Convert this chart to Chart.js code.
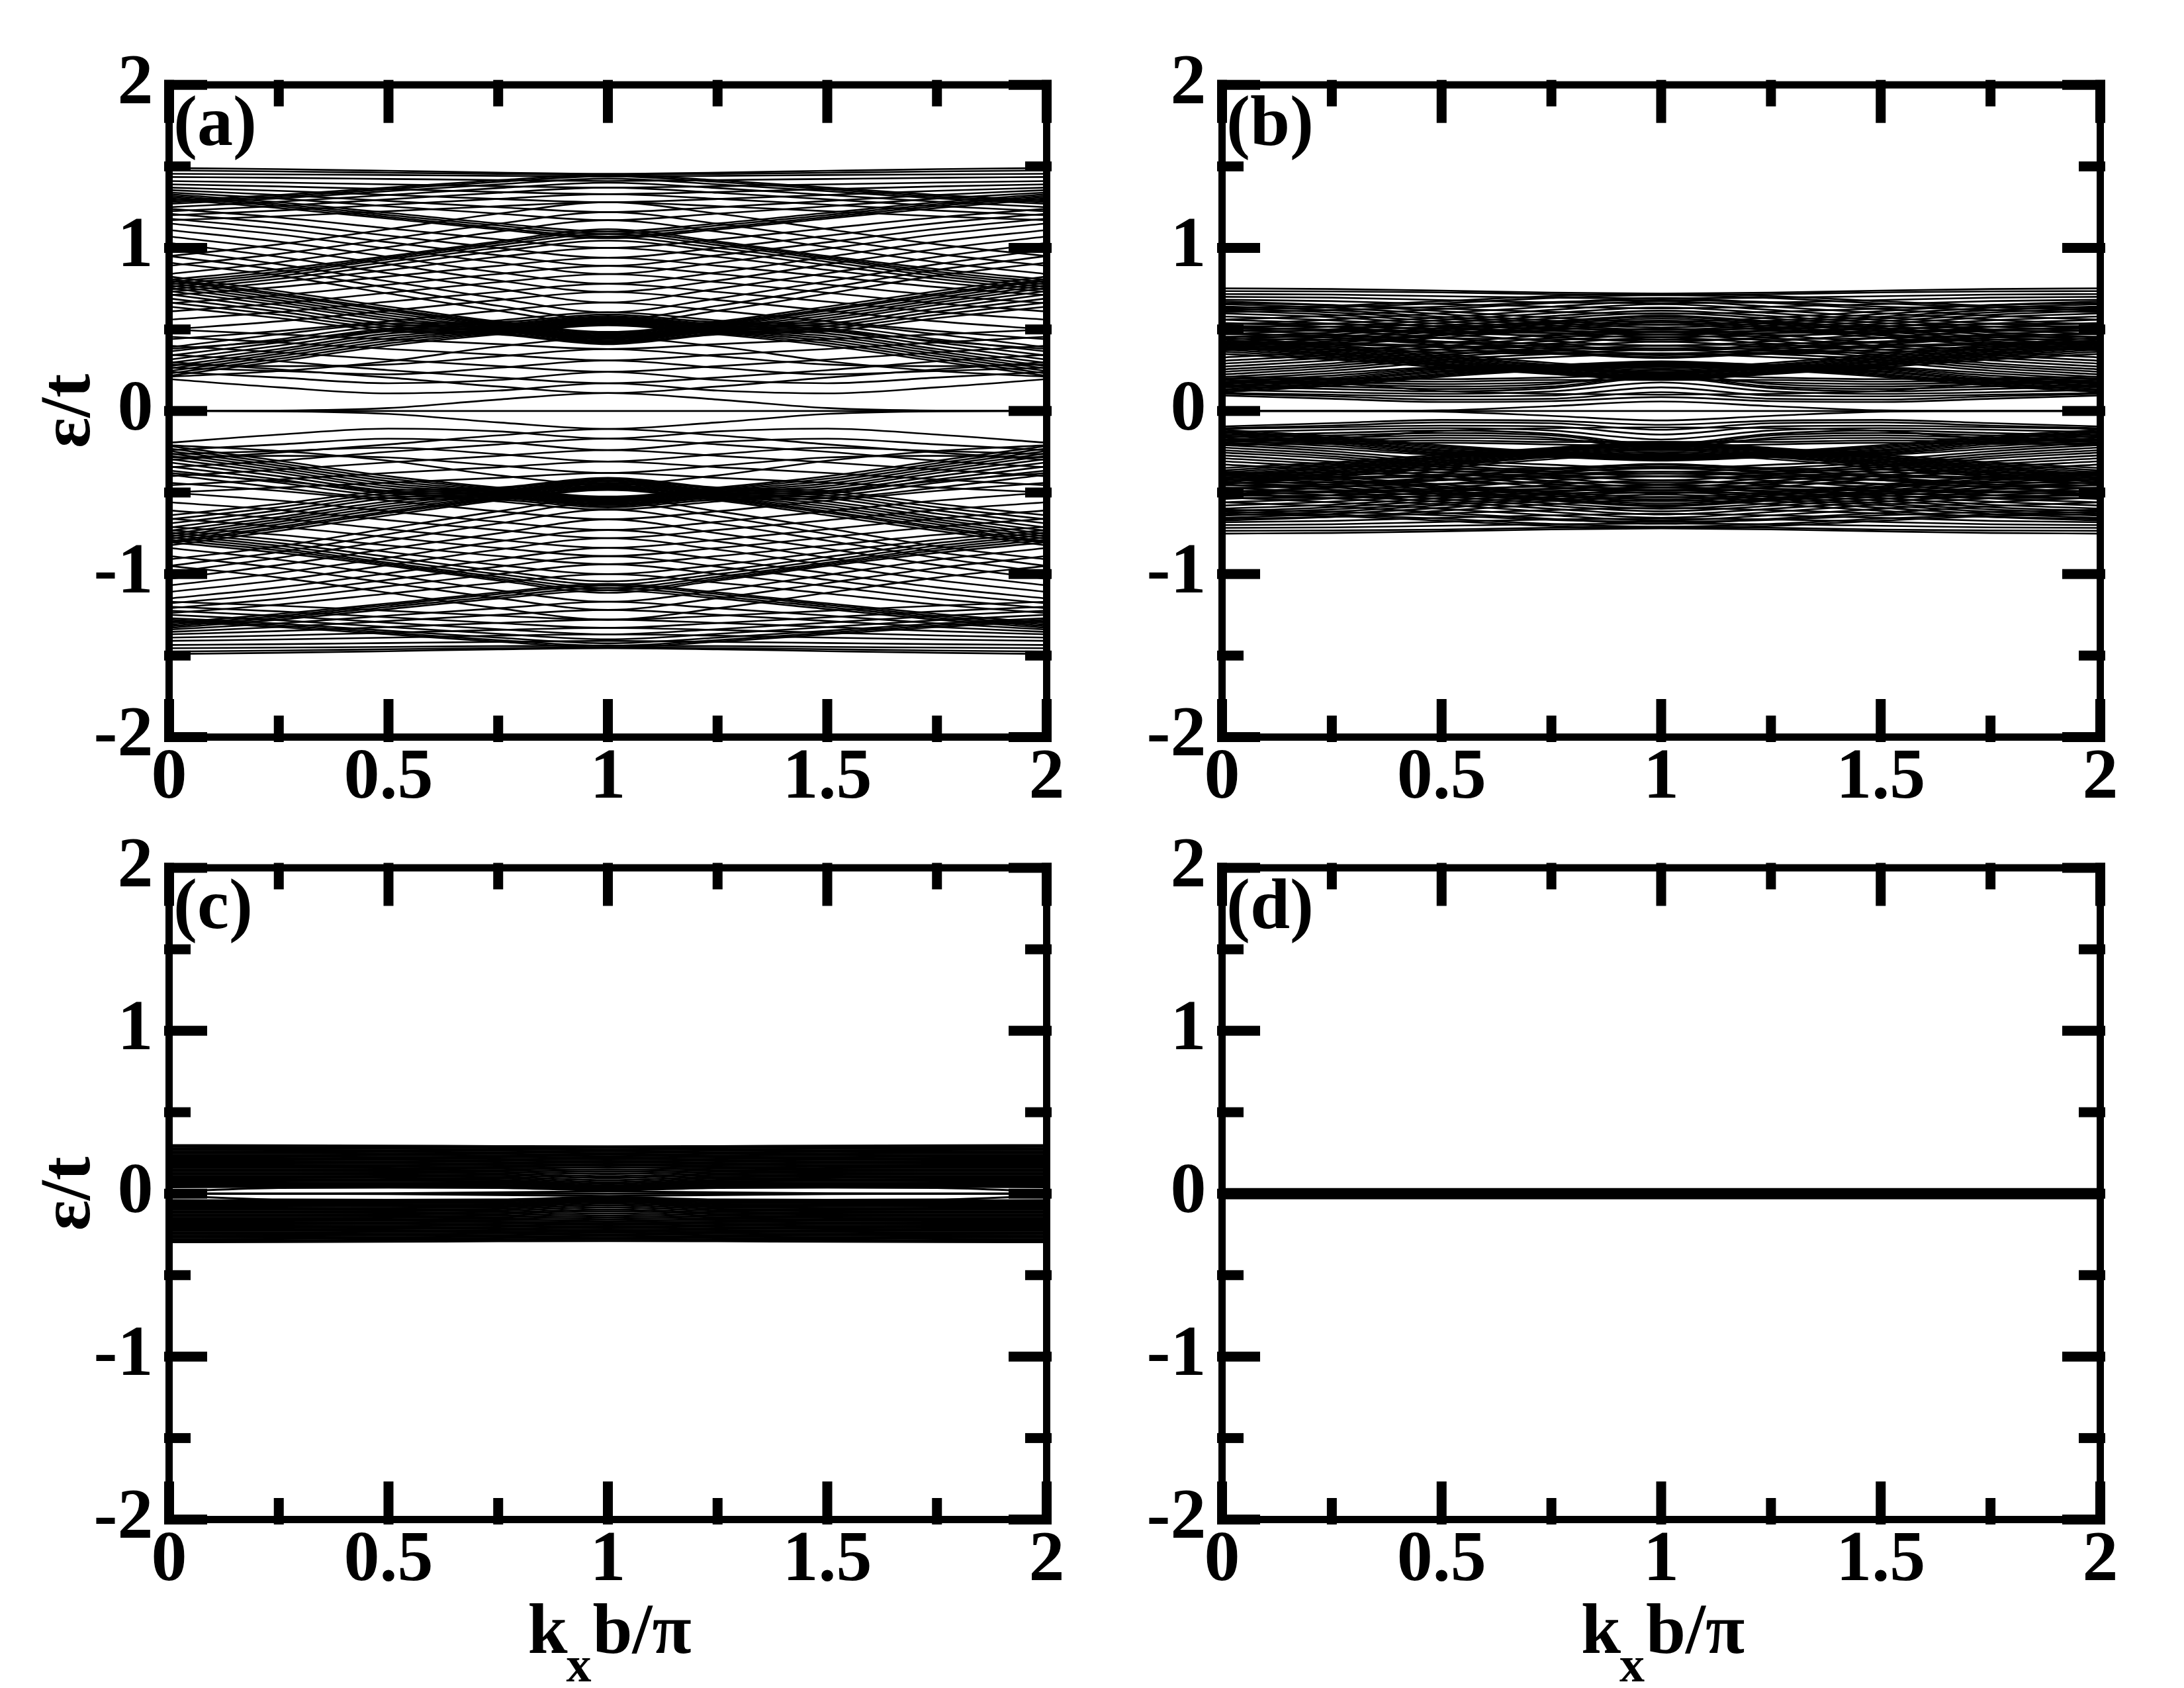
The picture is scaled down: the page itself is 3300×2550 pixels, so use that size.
<!DOCTYPE html>
<html><head><meta charset="utf-8">
<style>html,body{margin:0;padding:0;background:#fff}canvas{position:absolute;display:block}</style>
<script src="https://cdn.jsdelivr.net/npm/chart.js@4"></script>
</head><body>
<canvas id="pa"></canvas><canvas id="pb"></canvas><canvas id="pc"></canvas><canvas id="pd"></canvas>
<script>
// k_x b/pi positions at which the levels below were read (k=0 to k=1; the picture mirrors about k=1 and about E=0)
const kKnots = [0,0.25,0.5,0.75,1,1.25,1.5,1.75,2];
const xMajor = [0,0.5,1,1.5,2], xMinor = [0.25,0.75,1.25,1.75];
const yMajor = [-2,-1,0,1,2], yMinor = [-1.5,-0.5,0.5,1.5];
const panelLabels = ['(a)','(b)','(c)','(d)'];
const yTitle = 'ε/t';
const xTitleParts = ['k','x','b/π'];

// Panel (a): upper-half levels, E at k = 0, .25, .5, .75, 1
const aTop = [[1.49,1.483,1.473,1.462,1.455],[1.475,1.469,1.461,1.454,1.448],[1.455,1.451,1.447,1.442,1.438],[1.435,1.43,1.423,1.416,1.41],[1.41,1.401,1.39,1.378,1.37],[1.39,1.377,1.36,1.343,1.33],[1.37,1.35,1.325,1.3,1.28],[1.355,1.325,1.288,1.25,1.22]];
const aFallToCross = [[1.34,1.303,1.255,1.21,1.17],[1.33,1.28,1.215,1.15,1.1],[1.32,1.268,1.202,1.137,1.085],[1.31,1.257,1.19,1.123,1.07],[1.3,1.245,1.18,1.113,1.06]];
const aRiseToTop = [[1.29,1.325,1.37,1.415,1.45],[1.28,1.315,1.36,1.405,1.44],[1.27,1.304,1.348,1.39,1.425],[1.25,1.283,1.325,1.367,1.4],[1.225,1.257,1.298,1.338,1.37],[1.2,1.229,1.265,1.301,1.33],[1.17,1.194,1.225,1.256,1.28]];
const aFallDiamond = [[1.24,1.187,1.12,1.053,1.0],[1.21,1.152,1.075,1.0,0.94],[1.18,1.117,1.035,0.955,0.89],[1.15,1.082,0.995,0.91,0.84],[1.11,1.038,0.945,0.85,0.78],[1.07,0.993,0.9,0.8,0.73],[1.03,0.945,0.845,0.75,0.665],[0.99,0.9,0.795,0.69,0.605],[0.95,0.865,0.755,0.645,0.56],[0.91,0.83,0.72,0.615,0.53]];
const aRiseToCross = [[0.745,0.81,0.895,0.98,1.045],[0.76,0.827,0.915,1.0,1.065],[0.775,0.842,0.93,1.017,1.085],[0.79,0.855,0.94,1.03,1.1],[0.805,0.87,0.95,1.04,1.115],[0.84,0.912,1.005,1.1,1.17],[0.89,0.963,1.055,1.148,1.22],[0.95,1.022,1.115,1.21,1.28]];
const aRiseMiddle = [[0.38,0.43,0.495,0.555,0.605],[0.44,0.49,0.55,0.615,0.665],[0.5,0.55,0.615,0.68,0.73],[0.56,0.607,0.67,0.73,0.78],[0.61,0.66,0.725,0.79,0.84],[0.66,0.71,0.775,0.84,0.89],[0.71,0.76,0.825,0.89,0.94],[0.73,0.79,0.865,0.945,1.0]];
const aFallBowtie = [[0.825,0.735,0.64,0.548,0.485],[0.81,0.72,0.625,0.54,0.478],[0.8,0.71,0.615,0.532,0.47],[0.785,0.695,0.6,0.525,0.462],[0.77,0.68,0.585,0.517,0.455],[0.755,0.665,0.57,0.51,0.447],[0.735,0.65,0.555,0.503,0.44],[0.715,0.63,0.535,0.496,0.432],[0.69,0.61,0.52,0.488,0.425],[0.665,0.59,0.505,0.478,0.417],[0.64,0.57,0.49,0.47,0.41]];
const aRiseBowtie = [[0.215,0.305,0.4,0.47,0.525],[0.23,0.32,0.415,0.478,0.532],[0.245,0.335,0.43,0.485,0.539],[0.26,0.35,0.445,0.493,0.547],[0.275,0.365,0.46,0.5,0.553],[0.295,0.38,0.475,0.508,0.56],[0.315,0.4,0.49,0.516,0.568],[0.34,0.42,0.505,0.524,0.575],[0.365,0.44,0.52,0.533,0.583],[0.39,0.47,0.535,0.545,0.592]];
const aLow = [[0.195,0.145,0.108,0.125,0.17],[0,0.002,0.018,0.07,0.11],[0.3,0.255,0.205,0.15,0.11],[0.345,0.305,0.25,0.205,0.17],[0.4,0.36,0.315,0.275,0.24],[0.455,0.42,0.38,0.345,0.31],[0.5,0.47,0.44,0.41,0.38],[0.24,0.205,0.17,0.19,0.24],[0.265,0.245,0.225,0.265,0.31],[0.285,0.275,0.285,0.335,0.38],[0.21,0.245,0.305,0.395,0.45]];

// Panel (b): upper-half levels
const bTop = [[0.752,0.748,0.738,0.726,0.72],[0.735,0.733,0.727,0.716,0.71],[0.717,0.714,0.704,0.695,0.69],[0.7,0.695,0.68,0.665,0.66],[0.682,0.674,0.655,0.64,0.63],[0.662,0.65,0.628,0.608,0.595],[0.618,0.635,0.66,0.693,0.71],[0.632,0.645,0.673,0.705,0.718],[0.606,0.618,0.64,0.668,0.68]];
const bFallUpper = [[0.672,0.65,0.612,0.572,0.545],[0.655,0.632,0.594,0.553,0.527],[0.642,0.618,0.578,0.54,0.512],[0.628,0.604,0.566,0.526,0.498],[0.615,0.59,0.55,0.512,0.486],[0.598,0.575,0.534,0.498,0.47],[0.58,0.556,0.516,0.478,0.45],[0.56,0.536,0.494,0.453,0.425],[0.54,0.515,0.472,0.428,0.4],[0.518,0.492,0.448,0.404,0.373],[0.497,0.47,0.425,0.38,0.348],[0.478,0.45,0.405,0.358,0.325]];
const bRiseUpper = [[0.37,0.404,0.45,0.497,0.53],[0.382,0.417,0.463,0.51,0.543],[0.393,0.428,0.472,0.52,0.554],[0.406,0.44,0.487,0.533,0.567],[0.42,0.453,0.497,0.542,0.578],[0.437,0.468,0.51,0.55,0.585],[0.452,0.482,0.523,0.567,0.6],[0.47,0.5,0.54,0.582,0.615],[0.488,0.517,0.557,0.6,0.635],[0.505,0.535,0.574,0.62,0.655],[0.53,0.56,0.6,0.64,0.672],[0.56,0.585,0.625,0.662,0.692]];
const bFlatMiddle = [[0.472,0.462,0.446,0.44,0.437],[0.456,0.45,0.425,0.41,0.402],[0.442,0.437,0.42,0.395,0.385],[0.424,0.418,0.4,0.385,0.372],[0.411,0.408,0.39,0.37,0.353],[0.394,0.392,0.375,0.358,0.342],[0.381,0.378,0.36,0.35,0.33],[0.49,0.492,0.478,0.462,0.455],[0.506,0.5,0.49,0.477,0.47],[0.521,0.517,0.505,0.49,0.483],[0.535,0.533,0.52,0.505,0.498]];
const bFallStripe = [[0.45,0.405,0.35,0.295,0.26],[0.437,0.393,0.338,0.283,0.25],[0.428,0.383,0.328,0.275,0.24],[0.418,0.373,0.319,0.266,0.233],[0.408,0.364,0.31,0.258,0.226],[0.398,0.354,0.302,0.25,0.218],[0.388,0.346,0.293,0.243,0.21],[0.376,0.336,0.285,0.237,0.203],[0.364,0.325,0.278,0.232,0.198],[0.35,0.315,0.268,0.226,0.19]];
const bRiseLower = [[0.115,0.155,0.21,0.25,0.27],[0.124,0.165,0.219,0.254,0.275],[0.133,0.173,0.228,0.258,0.28],[0.143,0.183,0.238,0.262,0.285],[0.153,0.192,0.246,0.266,0.29],[0.164,0.203,0.255,0.27,0.295],[0.178,0.217,0.262,0.275,0.3],[0.193,0.232,0.27,0.283,0.305],[0.208,0.247,0.3,0.33,0.352],[0.224,0.263,0.315,0.35,0.375],[0.24,0.278,0.33,0.372,0.4],[0.255,0.292,0.343,0.39,0.425],[0.272,0.31,0.36,0.412,0.45],[0.29,0.327,0.378,0.43,0.468],[0.308,0.345,0.397,0.448,0.486],[0.328,0.365,0.415,0.467,0.505]];
const bLow = [[0.095,0.075,0.055,0.06,0.085],[0.105,0.09,0.07,0.075,0.115],[0.11,0.1,0.09,0.095,0.145],[0.13,0.115,0.105,0.12,0.175],[0.15,0.135,0.12,0.14,0.205],[0,0,0.004,0.03,0.058],[0.16,0.15,0.135,0.15,0.215],[0.175,0.165,0.15,0.165,0.23],[0.19,0.178,0.165,0.175,0.2],[0.2,0.19,0.18,0.19,0.19],[0.21,0.2,0.195,0.205,0.22],[0.18,0.17,0.122,0.105,0.1]];

// Panel (c): upper-half levels
const cBand = [[0.298,0.297,0.295,0.292,0.29],[0.288,0.287,0.285,0.283,0.28],[0.278,0.277,0.276,0.273,0.27],[0.268,0.267,0.266,0.264,0.26],[0.258,0.257,0.256,0.254,0.25],[0.248,0.248,0.246,0.244,0.24],[0.238,0.238,0.236,0.234,0.23],[0.228,0.228,0.226,0.224,0.22],[0.218,0.218,0.216,0.214,0.21],[0.208,0.208,0.207,0.204,0.2],[0.198,0.198,0.197,0.194,0.19],[0.188,0.188,0.187,0.184,0.18],[0.178,0.178,0.177,0.174,0.17],[0.168,0.168,0.167,0.164,0.158],[0.158,0.158,0.157,0.154,0.146],[0.148,0.148,0.147,0.144,0.134],[0.138,0.138,0.137,0.134,0.121],[0.128,0.128,0.127,0.124,0.108],[0.118,0.118,0.117,0.114,0.096],[0.108,0.108,0.107,0.104,0.083],[0.098,0.098,0.097,0.094,0.071],[0.088,0.088,0.087,0.084,0.06],[0.078,0.078,0.077,0.075,0.05],[0.068,0.068,0.067,0.066,0.042],[0.058,0.058,0.058,0.057,0.035],[0.048,0.048,0.049,0.048,0.028],[0.04,0.042,0.043,0.042,0.024],[0.012,0.036,0.038,0.036,0.02],[0,0,0.002,0.008,0.014]];

// Panel (d): the whole spectrum collapses on E=0
const dFlat = [[0,0,0,0,0]];

const FONT = '"Liberation Serif","Times New Roman",serif';
const panels = [
 {cv:'pa',idx:0,left:0,top:0,w:1650,h:1230,L:255.5,R:1581.5,T:128.2,B:1113.5,groups:[aTop,aFallToCross,aRiseToTop,aFallDiamond,aRiseToCross,aRiseMiddle,aFallBowtie,aRiseBowtie,aLow],lw:2.6,yt:true,xt:false},
 {cv:'pb',idx:1,left:1650,top:0,w:1650,h:1230,L:1846.5,R:3173.5,T:128.2,B:1113.5,groups:[bTop,bFallUpper,bRiseUpper,bFlatMiddle,bFallStripe,bRiseLower,bLow],lw:2.6,yt:false,xt:false},
 {cv:'pc',idx:2,left:0,top:1230,w:1650,h:1320,L:255.5,R:1581.5,T:1311,B:2295.5,groups:[cBand],lw:3,yt:true,xt:true},
 {cv:'pd',idx:3,left:1650,top:1230,w:1650,h:1320,L:1846.5,R:3173.5,T:1311,B:2295.5,groups:[dFlat],lw:17,yt:false,xt:true}
];

function seriesFor(row,sign){
  const half = row.map(v=>v*sign);
  const full = half.concat(half.slice(0,4).reverse());
  return full.map((y,i)=>({x:kKnots[i],y}));
}
function makeDatasets(p){
  const out=[];
  const add=(row,sign)=>out.push({data:seriesFor(row,sign),borderColor:'#000',borderWidth:p.lw,pointRadius:0,cubicInterpolationMode:'monotone',fill:false});
  p.groups.forEach(g=>g.forEach(r=>{add(r,1); if(r.some(v=>v!==0)) add(r,-1);}));
  if(p.idx<3) add([0,0,0,0,0],1);
  return out;
}
const frameTicks = {
  id:'frameTicks',
  afterDatasetsDraw(chart,args,opts){
    const c=chart.ctx,a=chart.chartArea,xs=chart.scales.x,ys=chart.scales.y;
    const TW=15,OUT=7.5,MAJ=65,MIN=40;
    c.save();
    c.strokeStyle='#000';c.fillStyle='#000';c.lineWidth=11;c.lineJoin='miter';
    c.strokeRect(a.left,a.top,a.right-a.left,a.bottom-a.top);
    const vt=(v,len)=>{const x=xs.getPixelForValue(v);
      c.fillRect(x-TW/2,a.top-OUT,TW,len);c.fillRect(x-TW/2,a.bottom+OUT-len,TW,len);};
    const ht=(v,len)=>{const y=ys.getPixelForValue(v);
      c.fillRect(a.left-OUT,y-TW/2,len,TW);c.fillRect(a.right+OUT-len,y-TW/2,len,TW);};
    xMajor.forEach(v=>vt(v,MAJ));xMinor.forEach(v=>vt(v,MIN));
    yMajor.forEach(v=>ht(v,MAJ));yMinor.forEach(v=>ht(v,MIN));
    c.textAlign='left';c.textBaseline='alphabetic';
    c.font='bold 108px '+FONT;
    c.fillText(panelLabels[opts.idx],a.left+6.5,a.top+91);
    if(opts.xt){
      const mid=(a.left+a.right)/2,base=a.bottom+201.5;
      c.fillText(xTitleParts[0],mid-121,base);
      c.fillText(xTitleParts[2],mid-23,base);
      c.font='bold 76px '+FONT;
      c.fillText(xTitleParts[1],mid-63,base+43);
    }
    c.restore();
  }
};
panels.forEach(p=>{
  const el=document.getElementById(p.cv);
  el.width=p.w;el.height=p.h;el.style.left=p.left+'px';el.style.top=p.top+'px';
  el.style.width=p.w+'px';el.style.height=p.h+'px';
  new Chart(el,{
    type:'line',
    data:{datasets:makeDatasets(p)},
    plugins:[frameTicks],
    options:{
      responsive:false,animation:false,devicePixelRatio:1,
      layout:{padding:{left:0,top:p.T-p.top,right:p.left+p.w-p.R,bottom:0}},
      plugins:{legend:{display:false},tooltip:{enabled:false},title:{display:false},frameTicks:{idx:p.idx,xt:p.xt}},
      scales:{
        x:{type:'linear',min:0,max:2,
          grid:{display:false,drawTicks:false},border:{display:false},
          ticks:{stepSize:0.5,padding:9.5,autoSkip:false,maxRotation:0,color:'#000',
            font:{family:FONT,size:108,weight:'bold',lineHeight:1},callback:v=>String(v)},
          afterFit(s){s.height=p.top+p.h-p.B;}},
        y:{type:'linear',min:-2,max:2,
          grid:{display:false,drawTicks:false},border:{display:false},
          title:{display:p.yt,text:yTitle,color:'#000',padding:{top:42,bottom:0},
            font:{family:FONT,size:108,weight:'bold',lineHeight:1.2}},
          ticks:{stepSize:1,padding:24,autoSkip:false,color:'#000',
            font:{family:FONT,size:108,weight:'bold',lineHeight:1},callback:v=>String(v)},
          afterFit(s){s.width=p.L-p.left;}}
      }
    }
  });
});
</script>
</body></html>
